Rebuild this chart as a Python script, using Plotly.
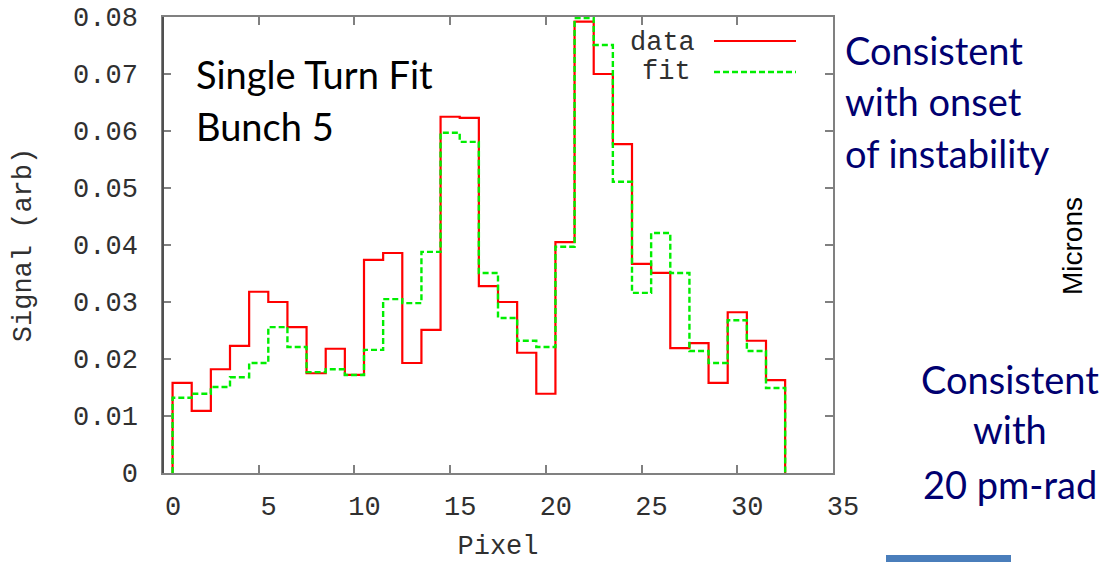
import plotly.graph_objects as go

# Detector pixel index and per-pixel signal (single turn, bunch 5)
pixels = list(range(1, 33))
data_signal = [
    0.0158, 0.0109, 0.0182, 0.0223, 0.0318, 0.0300, 0.0256, 0.0175,
    0.0218, 0.0172, 0.0374, 0.0386, 0.0193, 0.0251, 0.0625, 0.0623,
    0.0328, 0.0300, 0.0211, 0.0139, 0.0405, 0.0792, 0.0700, 0.0577,
    0.0367, 0.0351, 0.0219, 0.0228, 0.0158, 0.0282, 0.0232, 0.0163,
]
fit_signal = [
    0.0132, 0.0139, 0.0151, 0.0168, 0.0193, 0.0256, 0.0221, 0.0177,
    0.0182, 0.0172, 0.0216, 0.0305, 0.0298, 0.0388, 0.0597, 0.0581,
    0.0351, 0.0272, 0.0232, 0.0221, 0.0397, 0.0798, 0.0751, 0.0511,
    0.0316, 0.0421, 0.0351, 0.0214, 0.0193, 0.0268, 0.0214, 0.0149,
]
x_tick_vals = [0, 5, 10, 15, 20, 25, 30, 35]
x_tick_labels = ["0", "5", "10", "15", "20", "25", "30", "35"]
y_tick_vals = [0, 0.01, 0.02, 0.03, 0.04, 0.05, 0.06, 0.07, 0.08]
y_tick_labels = ["0", "0.01", "0.02", "0.03", "0.04", "0.05", "0.06", "0.07", "0.08"]

W, H = 1105, 562
PL, PR, PT, PB = 163, 833, 17, 473  # plot-area edges in pixels


def px(x):
    return (x - PL) / (PR - PL)


def py(y):
    return (PB - y) / (PB - PT)


def histeps(centers, values):
    """gnuplot-style histogram steps: bins centred on each pixel, closed to zero."""
    xs = [centers[0] - 0.5] + [c - 0.5 for c in centers] + [centers[-1] + 0.5] * 2
    ys = [0] + list(values) + [values[-1], 0]
    return xs, ys


mono = "Liberation Mono"
tick_col = "#303030"
RED = "#ff0000"
GREEN = "#00ee00"
FS = 27

fig = go.Figure()
dx, dy = histeps(pixels, data_signal)
fx, fy = histeps(pixels, fit_signal)
fig.add_trace(go.Scatter(x=dx, y=dy, mode="lines", line_shape="hv",
                         line=dict(color=RED, width=2.2), name="data"))
fig.add_trace(go.Scatter(x=fx, y=fy, mode="lines", line_shape="hv",
                         line=dict(color=GREEN, width=2.4, dash="6px,3px"), name="fit"))

axis_common = dict(
    showgrid=False, zeroline=False, showline=True, mirror="ticks",
    ticks="inside", ticklen=8, tickcolor="#808080", tickwidth=1.5,
    linecolor="#808080", linewidth=1.5, automargin=False,
    tickfont=dict(family=mono, size=FS, color=tick_col),
)
fig.update_xaxes(range=[0, 35], tickvals=x_tick_vals, ticktext=x_tick_labels,
                 ticklabelshift=10, ticklabelstandoff=8,
                 title=dict(text="Pixel", font=dict(family=mono, size=FS, color=tick_col),
                            standoff=27),
                 **axis_common)
fig.update_yaxes(range=[0, 0.08], tickvals=y_tick_vals, ticktext=y_tick_labels,
                 ticklabelstandoff=18,
                 title=dict(text="Signal (arb)", font=dict(family=mono, size=FS, color=tick_col),
                            standoff=34),
                 **axis_common)

# darker left spine
fig.add_shape(type="line", xref="paper", yref="paper", x0=0, x1=0, y0=0, y1=1,
              line=dict(color="#505050", width=2))

# key: label then line sample
fig.add_annotation(text="data", xref="paper", yref="paper", x=px(697), y=py(43),
                   xanchor="right", yanchor="middle", showarrow=False,
                   font=dict(family=mono, size=FS, color=tick_col))
fig.add_annotation(text="fit", xref="paper", yref="paper", x=px(693), y=py(72),
                   xanchor="right", yanchor="middle", showarrow=False,
                   font=dict(family=mono, size=FS, color=tick_col))
fig.add_shape(type="line", xref="paper", yref="paper", x0=px(714), x1=px(796),
              y0=py(41), y1=py(41), line=dict(color=RED, width=2))
fig.add_shape(type="line", xref="paper", yref="paper", x0=px(714), x1=px(796),
              y0=py(72), y1=py(72), line=dict(color=GREEN, width=2.4, dash="6px,3px"))

sans = "Lato"
navy = "#000070"
for txt, xx, yy in [("Single Turn Fit", 194, 74), ("Bunch 5", 194, 126)]:
    fig.add_annotation(text=txt, xref="paper", yref="paper", x=px(xx), y=py(yy),
                       xanchor="left", yanchor="middle", showarrow=False,
                       font=dict(family=sans, size=38, color="black"))
for txt, yy in [("Consistent", 50), ("with onset", 101), ("of instability", 153)]:
    fig.add_annotation(text=txt, xref="paper", yref="paper", x=px(843), y=py(yy),
                       xanchor="left", yanchor="middle", showarrow=False,
                       font=dict(family=sans, size=38, color=navy))
for txt, yy in [("Consistent", 379), ("with", 429), ("20 pm-rad", 484)]:
    fig.add_annotation(text=txt, xref="paper", yref="paper", x=px(1010), y=py(yy),
                       xanchor="center", yanchor="middle", showarrow=False,
                       font=dict(family=sans, size=38, color=navy))
fig.add_annotation(text="Microns", xref="paper", yref="paper", x=px(1072), y=py(246),
                   xanchor="center", yanchor="middle", textangle=-90, showarrow=False,
                   font=dict(family="Liberation Sans", size=28, color="black"))

# small blue bar at the bottom edge
fig.add_shape(type="rect", xref="paper", yref="paper", x0=px(886), x1=px(1011),
              y0=py(563), y1=py(555), line=dict(width=0), fillcolor="#4a7ebb")

fig.update_layout(
    width=W, height=H, showlegend=False,
    margin=dict(l=PL, r=W - PR, t=PT, b=H - PB),
    paper_bgcolor="white", plot_bgcolor="white",
)
fig.write_html("out.html")
